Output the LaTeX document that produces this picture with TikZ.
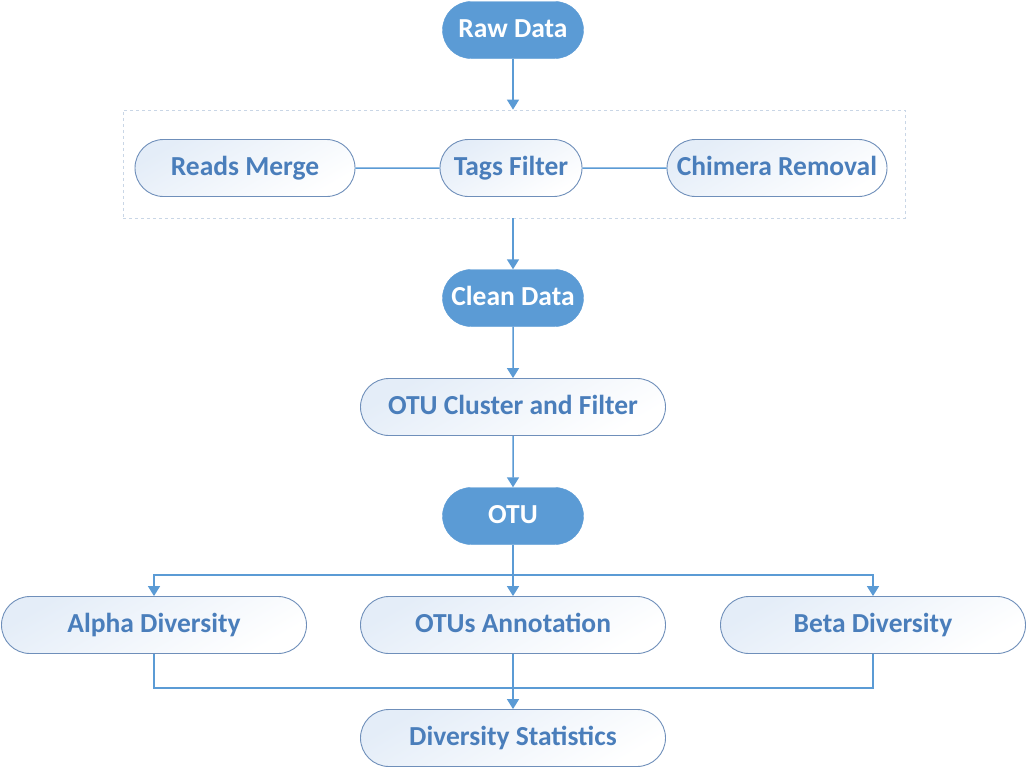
\documentclass[tikz,border=0pt]{standalone}
\usepackage{fontspec}
\setmainfont{Carlito}
\usetikzlibrary{arrows.meta,shapes.misc}
\definecolor{fillblue}{HTML}{5B9BD5}
\definecolor{lineblue}{HTML}{5B9BD5}
\definecolor{txtblue}{HTML}{4A7EBB}
\definecolor{bordblue}{HTML}{6F8FBA}
\definecolor{lightbg}{HTML}{E4EDF8}
\definecolor{dashcol}{HTML}{C9D6E6}
\tikzset{
  x=1pt,y=-1pt,
  boxfont/.style={font=\bfseries\fontsize{27.5}{30}\selectfont, text height=18pt, text depth=4pt},
  darkbox/.style={rounded rectangle, fill=fillblue, draw=fillblue, text=white, boxfont,
    minimum width=141pt, minimum height=57pt, inner sep=0pt},
  lightbox/.style={rounded rectangle, draw=bordblue, line width=0.9pt, text=txtblue,
    top color=lightbg, bottom color=white, shading angle=30, boxfont,
    minimum height=57pt, inner sep=0pt},
  conn/.style={draw=lineblue, line width=1.5pt},
  arr/.style={conn, -{Triangle[width=12pt,length=10pt]}},
}
\begin{document}
\begin{tikzpicture}
\useasboundingbox (0,0) rectangle (1028,769);
\fill[white] (0,0) rectangle (1028,769);
% group frame
\node[draw=dashcol, dashed, line width=0.8pt, minimum width=782pt, minimum height=108pt, inner sep=0pt] (grp) at (514,164) {};
\node[darkbox] (raw) at (513,30) {Raw Data};
\node[lightbox, minimum width=220pt] (rm) at (245,168) {Reads Merge};
\node[lightbox, minimum width=142pt] (tf) at (511,168) {Tags Filter};
\node[lightbox, minimum width=220pt] (cr) at (777,168) {Chimera Removal};
\node[darkbox] (clean) at (513,298) {Clean Data};
\node[lightbox, minimum width=305pt] (otuc) at (513,407) {OTU Cluster and Filter};
\node[darkbox] (otu) at (513,516) {OTU};
\node[lightbox, minimum width=305pt] (alpha) at (154,625) {Alpha Diversity};
\node[lightbox, minimum width=305pt] (anno) at (513,625) {OTUs Annotation};
\node[lightbox, minimum width=305pt] (beta) at (873,625) {Beta Diversity};
\node[lightbox, minimum width=305pt] (stat) at (513,738) {Diversity Statistics};
\coordinate (split) at (513,575);
\coordinate (join) at (513,688);
% connectors
\draw[arr] (raw.south) -- (raw.south |- grp.north);
\draw[conn] (rm) -- (tf);
\draw[conn] (tf) -- (cr);
\draw[arr] (clean.north |- grp.south) -- (clean.north);
\draw[arr] (clean) -- (otuc);
\draw[arr] (otuc) -- (otu);
\draw[arr] (otu.south) -- (anno.north);
\draw[arr] (split) -| (alpha.north);
\draw[arr] (split) -| (beta.north);
\draw[conn] (alpha.south) |- (join) -| (beta.south);
\draw[arr] (anno.south) -- (stat.north);
\end{tikzpicture}
\end{document}
